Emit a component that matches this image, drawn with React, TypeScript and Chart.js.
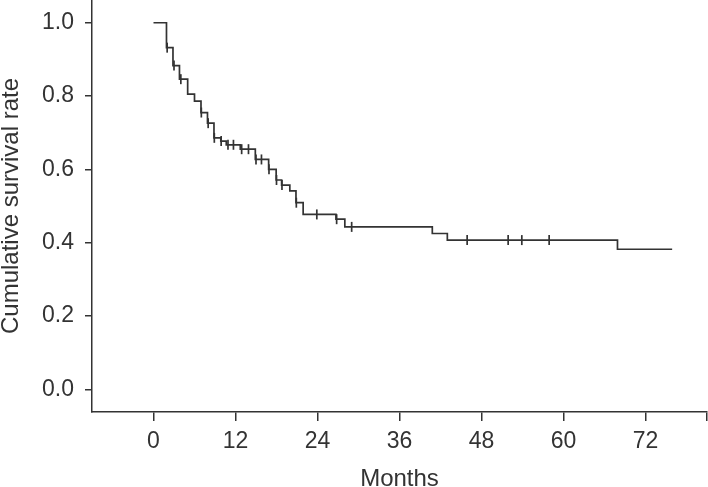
import { useEffect, useRef } from 'react';
import { Chart, registerables } from 'chart.js';

Chart.register(...registerables);

// Kaplan-Meier steps: month of each drop and survival after it
const eventMonths = [0, 1.9, 2.85, 3.8, 5.0, 6.0, 6.95, 7.9, 8.85, 9.85, 10.65, 12.7, 14.9, 16.85, 17.95, 18.75, 19.95, 20.85, 21.9, 26.7, 28.0, 40.8, 43.0, 67.9];
const eventSurvival = [1.0, 0.932, 0.883, 0.846, 0.805, 0.786, 0.755, 0.726, 0.686, 0.677, 0.667, 0.655, 0.627, 0.6, 0.571, 0.557, 0.541, 0.509, 0.477, 0.464, 0.443, 0.425, 0.407, 0.382];
const lastFollowUp = 75.9;

// censored cases (the + marks)
const censorMonths = [2.0, 3.0, 4.0, 7.0, 8.0, 8.9, 9.9, 10.9, 11.7, 12.9, 13.9, 15.0, 15.8, 16.9, 18.0, 18.8, 20.9, 23.9, 26.8, 29.0, 45.9, 51.9, 53.9, 57.9];

const xTicks = [0, 12, 24, 36, 48, 60, 72, 81];
const yTicks = [0, 0.2, 0.4, 0.6, 0.8, 1.0];

const INK = '#333333';
const FONT = "'Liberation Sans', Arial, sans-serif";

function survivalAt(t: number): number {
  let s = eventSurvival[0];
  eventMonths.forEach((m, i) => {
    if (m <= t) s = eventSurvival[i];
  });
  return s;
}

export default function App() {
  const canvasRef = useRef<HTMLCanvasElement>(null);

  useEffect(() => {
    document.body.style.margin = '0';
    if (!canvasRef.current) return;

    const curve = eventMonths.map((m, i) => ({ x: m, y: eventSurvival[i] }));
    curve.push({ x: lastFollowUp, y: survivalAt(lastFollowUp) });
    const censored = censorMonths.map((m) => ({ x: m, y: survivalAt(m) }));

    const chart = new Chart(canvasRef.current, {
      type: 'line',
      data: {
        datasets: [
          {
            data: curve,
            stepped: 'before',
            borderColor: INK,
            borderWidth: 1.7,
            pointRadius: 0,
            fill: false,
          },
          {
            data: censored,
            showLine: false,
            pointStyle: 'line',
            rotation: 90,
            pointRadius: 5,
            borderColor: INK,
            borderWidth: 1.7,
          },
        ],
      },
      options: {
        responsive: false,
        animation: false,
        layout: { autoPadding: false, padding: { top: 0, right: 1, bottom: 0, left: 0 } },
        plugins: { legend: { display: false }, tooltip: { enabled: false } },
        scales: {
          x: {
            type: 'linear',
            min: -9,
            max: 81,
            afterBuildTicks: (s: any) => { s.ticks = xTicks.map((v) => ({ value: v })); },
            afterFit: (s: any) => { s.height = 75; s.paddingLeft = 0; s.paddingRight = 0; },
            grid: { display: true, drawOnChartArea: false, drawTicks: true, tickLength: 9, color: INK, lineWidth: 1.5 },
            border: { display: true, color: INK, width: 1.5 },
            ticks: {
              color: INK,
              padding: 7,
              maxRotation: 0,
              autoSkip: false,
              font: { family: FONT, size: 23 },
              callback: (v: any) => (v === 81 ? '' : String(v)),
            },
            title: {
              display: true,
              text: 'Months',
              color: INK,
              font: { family: FONT, size: 24, lineHeight: 1 },
              padding: { top: 0, bottom: -4 },
            },
          },
          y: {
            type: 'linear',
            min: -0.062,
            max: 1.062,
            afterBuildTicks: (s: any) => { s.ticks = yTicks.map((v) => ({ value: v })); },
            afterFit: (s: any) => { s.width = 92; s.paddingTop = 0; s.paddingBottom = 0; },
            grid: { display: true, drawOnChartArea: false, drawTicks: true, tickLength: 7, color: INK, lineWidth: 1.5 },
            border: { display: true, color: INK, width: 1.5 },
            ticks: {
              color: INK,
              padding: 11,
              autoSkip: false,
              font: { family: FONT, size: 23 },
              callback: (v: any) => Number(v).toFixed(1),
            },
            title: {
              display: true,
              text: 'Cumulative survival rate',
              color: INK,
              font: { family: FONT, size: 24, lineHeight: 1 },
              padding: { top: -1, bottom: 0 },
            },
          },
        },
      },
    });

    return () => { chart.destroy(); };
  }, []);

  return (
    <div style={{ width: 708, height: 487 }}>
      <canvas ref={canvasRef} width={708} height={487} />
    </div>
  );
}
